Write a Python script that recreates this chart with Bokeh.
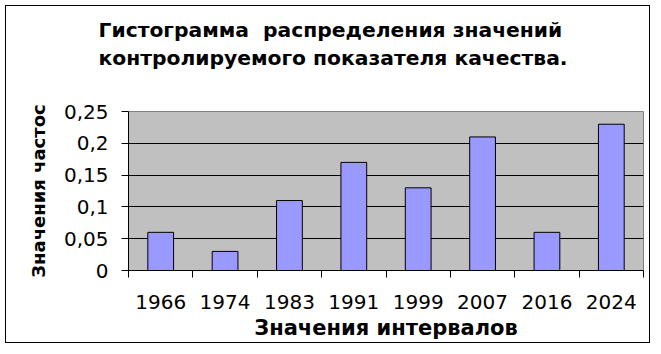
from bokeh.plotting import figure
from bokeh.models import FixedTicker, Title, Range1d
from bokeh.embed import file_html
from bokeh.resources import INLINE

categories = ["1966", "1974", "1983", "1991", "1999", "2007", "2016", "2024"]
frequencies = [0.06, 0.03, 0.11, 0.17, 0.13, 0.21, 0.06, 0.23]
y_ticks = [0, 0.05, 0.1, 0.15, 0.2, 0.25]
y_tick_labels = ["0", "0,05", "0,1", "0,15", "0,2", "0,25"]
title_lines = ["Гистограмма  распределения значений",
               "контролируемого показателя качества."]
x_title = "Значения интервалов"
y_title = "Значения частос"

n = len(categories)
x = [i + 0.5 for i in range(n)]
boundaries = list(range(n + 1))

TFONT = "DejaVu Sans"

p = figure(width=645, height=338, output_backend="svg", toolbar_location=None,
           x_range=Range1d(0, n), y_range=Range1d(0, max(y_ticks)),
           min_border_left=122, min_border_right=8,
           min_border_top=105, min_border_bottom=74)
p.styles = {"border": "1px solid black", "position": "absolute",
            "left": "5px", "top": "5px"}

p.background_fill_color = "#C0C0C0"
p.border_fill_color = "white"
p.outline_line_color = "#808080"
p.outline_line_width = 1

p.vbar(x=x, top=frequencies, width=0.4, fill_color="#9999FF",
       line_color="black", line_width=1)

# titles: p.title is the outer line; added panels stack outward from the frame
title_style = dict(align="left", offset=-30, text_font=TFONT,
                   text_font_size="20.3px", text_font_style="bold",
                   text_color="black")
p.title.text = title_lines[0].replace("  ", "\u00a0 ")
for k, v in title_style.items():
    setattr(p.title, k, v)
p.title.standoff = 1.5
spacer = Title(text=" ", standoff=14, **title_style)
p.add_layout(spacer, "above")
t2 = Title(text=title_lines[1], standoff=2.5, **title_style)
p.add_layout(t2, "above")

# x axis
xa = p.xaxis[0]
xa.ticker = FixedTicker(ticks=x, minor_ticks=boundaries)
xa.major_label_overrides = {xi: c for xi, c in zip(x, categories)}
xa.major_tick_in = 0
xa.major_tick_out = 0
xa.minor_tick_in = 0
xa.minor_tick_out = 7
xa.minor_tick_line_color = "black"
xa.axis_line_color = "black"
xa.major_label_text_font = "DejaVu Sans"
xa.major_label_text_font_size = "20px"
xa.major_label_text_color = "black"
xa.major_label_standoff = 17
xa.axis_label = x_title
xa.axis_label_text_font = TFONT
xa.axis_label_text_font_size = "21px"
xa.axis_label_text_font_style = "bold"
xa.axis_label_text_color = "black"
xa.axis_label_standoff = 4

# y axis
ya = p.yaxis[0]
ya.ticker = FixedTicker(ticks=y_ticks)
ya.major_label_overrides = {t: l for t, l in zip(y_ticks, y_tick_labels)}
ya.major_tick_in = 0
ya.major_tick_out = 7
ya.major_tick_line_color = "black"
ya.minor_tick_line_color = None
ya.axis_line_color = "black"
ya.major_label_text_font = "DejaVu Sans"
ya.major_label_text_font_size = "20px"
ya.major_label_text_color = "black"
ya.major_label_standoff = 13
ya.axis_label = y_title
ya.axis_label_text_font = TFONT
ya.axis_label_text_font_size = "18px"
ya.axis_label_text_font_style = "bold"
ya.axis_label_text_color = "black"
ya.axis_label_standoff = 12

p.xgrid.visible = False
p.ygrid.ticker = FixedTicker(ticks=y_ticks)
p.ygrid.grid_line_color = "black"
p.ygrid.grid_line_width = 1

open("out.html", "w").write(file_html(p, INLINE))
